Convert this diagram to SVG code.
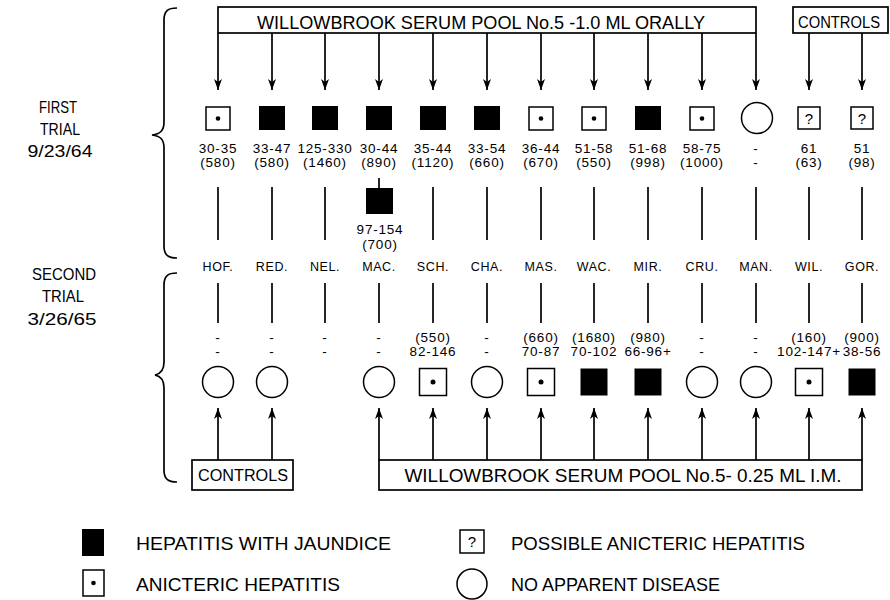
<svg xmlns="http://www.w3.org/2000/svg" width="890" height="600" viewBox="0 0 890 600">
<defs>
<style>
.ln{stroke:#000;stroke-width:1.7;fill:none}
.box{fill:#fff;stroke:#000;stroke-width:1.7}
.jau{fill:#000}
.ict{fill:#fff;stroke:#000;stroke-width:1.5}
.nad{fill:#fff;stroke:#000;stroke-width:1.5}
.dot{fill:#000}
text{font-family:"Liberation Sans",Arial,sans-serif;fill:#000}
.big{font-size:18px}
.ctl{font-size:16px;text-anchor:middle}
.lab{font-size:17px;text-anchor:middle}
.num{font-size:13.5px;text-anchor:middle;letter-spacing:0.8px}
.nm{font-size:12.5px;text-anchor:middle;letter-spacing:0.6px}
.q{font-size:15px;text-anchor:middle}
.mid{text-anchor:middle}
</style>
<marker id="ah" markerUnits="userSpaceOnUse" markerWidth="11" markerHeight="8" viewBox="0 0 11 8" refX="11" refY="4" orient="auto">
<path d="M0,0 L11,4 L0,8 L3,4 z" fill="#000"/>
</marker>
</defs>
<rect width="890" height="600" fill="#fff"/>

<!-- trial labels and braces -->
<g id="trial1-label">
<text class="lab" x="58" y="113" textLength="38" lengthAdjust="spacingAndGlyphs">FIRST</text>
<text class="lab" x="60" y="135" textLength="40" lengthAdjust="spacingAndGlyphs">TRIAL</text>
<text class="lab" x="60" y="157" textLength="65" lengthAdjust="spacingAndGlyphs">9/23/64</text>
<path class="ln" d="M177,8 C168,8 164,11 164,20 L164,122 C164,131 160,134 152,135 C160,136 164,139 164,148 L164,246 C164,255 168,258 177,258"/>
</g>
<g id="trial2-label">
<text class="lab" x="64" y="280" textLength="64" lengthAdjust="spacingAndGlyphs">SECOND</text>
<text class="lab" x="63" y="302" textLength="42" lengthAdjust="spacingAndGlyphs">TRIAL</text>
<text class="lab" x="62" y="325" textLength="69" lengthAdjust="spacingAndGlyphs">3/26/65</text>
<path class="ln" d="M177,273 C168,273 164,276 164,285 L164,362 C164,371 160,374 155,375 C160,376 164,379 164,388 L164,470 C164,479 168,482 177,482"/>
</g>

<!-- source boxes -->
<g id="pool-oral">
<rect class="box" x="218" y="7" width="538" height="26"/>
<text class="big mid" x="481" y="29" textLength="448" lengthAdjust="spacingAndGlyphs">WILLOWBROOK SERUM POOL No.5 -1.0 ML ORALLY</text>
</g>
<g id="controls-first">
<rect class="box" x="793" y="7" width="95" height="26"/>
<text class="ctl" x="839" y="28" textLength="82" lengthAdjust="spacingAndGlyphs">CONTROLS</text>
</g>
<g id="controls-second">
<rect class="box" x="192" y="460" width="101" height="30"/>
<text class="ctl" x="243" y="481" textLength="90" lengthAdjust="spacingAndGlyphs">CONTROLS</text>
</g>
<g id="pool-im">
<rect class="box" x="379" y="460" width="483" height="30"/>
<text class="big mid" x="623" y="482" textLength="437" lengthAdjust="spacingAndGlyphs">WILLOWBROOK SERUM POOL No.5- 0.25 ML I.M.</text>
</g>

<!-- connectors -->
<g id="connectors">
<line class="ln" x1="218" y1="33" x2="218" y2="90" marker-end="url(#ah)"/>
<line class="ln" x1="272" y1="33" x2="272" y2="90" marker-end="url(#ah)"/>
<line class="ln" x1="325" y1="33" x2="325" y2="90" marker-end="url(#ah)"/>
<line class="ln" x1="379" y1="33" x2="379" y2="90" marker-end="url(#ah)"/>
<line class="ln" x1="433" y1="33" x2="433" y2="90" marker-end="url(#ah)"/>
<line class="ln" x1="487" y1="33" x2="487" y2="90" marker-end="url(#ah)"/>
<line class="ln" x1="541" y1="33" x2="541" y2="90" marker-end="url(#ah)"/>
<line class="ln" x1="594" y1="33" x2="594" y2="90" marker-end="url(#ah)"/>
<line class="ln" x1="648" y1="33" x2="648" y2="90" marker-end="url(#ah)"/>
<line class="ln" x1="702" y1="33" x2="702" y2="90" marker-end="url(#ah)"/>
<line class="ln" x1="756" y1="33" x2="756" y2="90" marker-end="url(#ah)"/>
<line class="ln" x1="809" y1="33" x2="809" y2="90" marker-end="url(#ah)"/>
<line class="ln" x1="862" y1="33" x2="862" y2="90" marker-end="url(#ah)"/>

<line class="ln" x1="218" y1="187" x2="218" y2="240"/>
<line class="ln" x1="272" y1="187" x2="272" y2="240"/>
<line class="ln" x1="325" y1="187" x2="325" y2="240"/>
<line class="ln" x1="379" y1="178" x2="379" y2="188"/>
<line class="ln" x1="433" y1="187" x2="433" y2="240"/>
<line class="ln" x1="487" y1="187" x2="487" y2="240"/>
<line class="ln" x1="541" y1="187" x2="541" y2="240"/>
<line class="ln" x1="594" y1="187" x2="594" y2="240"/>
<line class="ln" x1="648" y1="187" x2="648" y2="240"/>
<line class="ln" x1="702" y1="187" x2="702" y2="240"/>
<line class="ln" x1="756" y1="187" x2="756" y2="240"/>
<line class="ln" x1="809" y1="187" x2="809" y2="240"/>
<line class="ln" x1="862" y1="187" x2="862" y2="240"/>

<line class="ln" x1="218" y1="283" x2="218" y2="323"/>
<line class="ln" x1="272" y1="283" x2="272" y2="323"/>
<line class="ln" x1="325" y1="283" x2="325" y2="323"/>
<line class="ln" x1="379" y1="283" x2="379" y2="323"/>
<line class="ln" x1="433" y1="283" x2="433" y2="323"/>
<line class="ln" x1="487" y1="283" x2="487" y2="323"/>
<line class="ln" x1="541" y1="283" x2="541" y2="323"/>
<line class="ln" x1="594" y1="283" x2="594" y2="323"/>
<line class="ln" x1="648" y1="283" x2="648" y2="323"/>
<line class="ln" x1="702" y1="283" x2="702" y2="323"/>
<line class="ln" x1="756" y1="283" x2="756" y2="323"/>
<line class="ln" x1="809" y1="283" x2="809" y2="323"/>
<line class="ln" x1="862" y1="283" x2="862" y2="323"/>

<line class="ln" x1="218" y1="460" x2="218" y2="408" marker-end="url(#ah)"/>
<line class="ln" x1="272" y1="460" x2="272" y2="408" marker-end="url(#ah)"/>
<line class="ln" x1="379" y1="460" x2="379" y2="408" marker-end="url(#ah)"/>
<line class="ln" x1="433" y1="460" x2="433" y2="408" marker-end="url(#ah)"/>
<line class="ln" x1="487" y1="460" x2="487" y2="408" marker-end="url(#ah)"/>
<line class="ln" x1="541" y1="460" x2="541" y2="408" marker-end="url(#ah)"/>
<line class="ln" x1="594" y1="460" x2="594" y2="408" marker-end="url(#ah)"/>
<line class="ln" x1="648" y1="460" x2="648" y2="408" marker-end="url(#ah)"/>
<line class="ln" x1="702" y1="460" x2="702" y2="408" marker-end="url(#ah)"/>
<line class="ln" x1="756" y1="460" x2="756" y2="408" marker-end="url(#ah)"/>
<line class="ln" x1="809" y1="460" x2="809" y2="408" marker-end="url(#ah)"/>
<line class="ln" x1="862" y1="460" x2="862" y2="408" marker-end="url(#ah)"/>
</g>

<!-- first trial results -->
<g id="first-HOF"><rect class="ict" x="206" y="107" width="24" height="23"/><circle class="dot" cx="218" cy="118.5" r="2.3"/><text class="num" x="218" y="153">30-35</text><text class="num" x="218" y="167">(580)</text></g>
<g id="first-RED"><rect class="jau" x="259" y="106" width="26" height="24"/><text class="num" x="272" y="153">33-47</text><text class="num" x="272" y="167">(580)</text></g>
<g id="first-NEL"><rect class="jau" x="312" y="106" width="26" height="24"/><text class="num" x="325" y="153">125-330</text><text class="num" x="325" y="167">(1460)</text></g>
<g id="first-MAC"><rect class="jau" x="366" y="106" width="26" height="24"/><text class="num" x="379" y="153">30-44</text><text class="num" x="379" y="167">(890)</text></g>
<g id="first-MAC-late"><rect class="jau" x="366" y="188" width="27" height="26"/><text class="num" x="380" y="234">97-154</text><text class="num" x="380" y="249">(700)</text></g>
<g id="first-SCH"><rect class="jau" x="420" y="106" width="26" height="24"/><text class="num" x="433" y="153">35-44</text><text class="num" x="433" y="167">(1120)</text></g>
<g id="first-CHA"><rect class="jau" x="474" y="106" width="26" height="24"/><text class="num" x="487" y="153">33-54</text><text class="num" x="487" y="167">(660)</text></g>
<g id="first-MAS"><rect class="ict" x="529" y="107" width="24" height="23"/><circle class="dot" cx="541" cy="118.5" r="2.3"/><text class="num" x="541" y="153">36-44</text><text class="num" x="541" y="167">(670)</text></g>
<g id="first-WAC"><rect class="ict" x="582" y="107" width="24" height="23"/><circle class="dot" cx="594" cy="118.5" r="2.3"/><text class="num" x="594" y="153">51-58</text><text class="num" x="594" y="167">(550)</text></g>
<g id="first-MIR"><rect class="jau" x="635" y="106" width="26" height="24"/><text class="num" x="648" y="153">51-68</text><text class="num" x="648" y="167">(998)</text></g>
<g id="first-CRU"><rect class="ict" x="690" y="107" width="24" height="23"/><circle class="dot" cx="702" cy="118.5" r="2.3"/><text class="num" x="702" y="153">58-75</text><text class="num" x="702" y="167">(1000)</text></g>
<g id="first-MAN"><circle class="nad" cx="757" cy="118" r="15.5"/><text class="num" x="756" y="153">-</text><text class="num" x="756" y="167">-</text></g>
<g id="first-WIL"><rect class="ict" x="798" y="107" width="22" height="22"/><text class="q" x="809" y="124">?</text><text class="num" x="809" y="153">61</text><text class="num" x="809" y="167">(63)</text></g>
<g id="first-GOR"><rect class="ict" x="851" y="107" width="22" height="22"/><text class="q" x="862" y="124">?</text><text class="num" x="862" y="153">51</text><text class="num" x="862" y="167">(98)</text></g>

<!-- subject names -->
<g id="names">
<text class="nm" x="218" y="271">HOF.</text>
<text class="nm" x="272" y="271">RED.</text>
<text class="nm" x="325" y="271">NEL.</text>
<text class="nm" x="379" y="271">MAC.</text>
<text class="nm" x="433" y="271">SCH.</text>
<text class="nm" x="487" y="271">CHA.</text>
<text class="nm" x="541" y="271">MAS.</text>
<text class="nm" x="594" y="271">WAC.</text>
<text class="nm" x="648" y="271">MIR.</text>
<text class="nm" x="702" y="271">CRU.</text>
<text class="nm" x="756" y="271">MAN.</text>
<text class="nm" x="809" y="271">WIL.</text>
<text class="nm" x="862" y="271">GOR.</text>
</g>

<!-- second trial results -->
<g id="second-HOF"><text class="num" x="218" y="342">-</text><text class="num" x="218" y="356">-</text><circle class="nad" cx="218" cy="382" r="15.5"/></g>
<g id="second-RED"><text class="num" x="272" y="342">-</text><text class="num" x="272" y="356">-</text><circle class="nad" cx="272" cy="382" r="15.5"/></g>
<g id="second-NEL"><text class="num" x="325" y="342">-</text><text class="num" x="325" y="356">-</text></g>
<g id="second-MAC"><text class="num" x="379" y="342">-</text><text class="num" x="379" y="356">-</text><circle class="nad" cx="379" cy="382" r="15.5"/></g>
<g id="second-SCH"><text class="num" x="433" y="342">(550)</text><text class="num" x="433" y="356">82-146</text><rect class="ict" x="419.5" y="368.5" width="27" height="27"/><circle class="dot" cx="433" cy="382" r="2.5"/></g>
<g id="second-CHA"><text class="num" x="487" y="342">-</text><text class="num" x="487" y="356">-</text><circle class="nad" cx="487" cy="382" r="15.5"/></g>
<g id="second-MAS"><text class="num" x="541" y="342">(660)</text><text class="num" x="541" y="356">70-87</text><rect class="ict" x="527.5" y="368.5" width="27" height="27"/><circle class="dot" cx="541" cy="382" r="2.5"/></g>
<g id="second-WAC"><text class="num" x="594" y="342">(1680)</text><text class="num" x="594" y="356">70-102</text><rect class="jau" x="580.5" y="368.5" width="27" height="27"/></g>
<g id="second-MIR"><text class="num" x="648" y="342">(980)</text><text class="num" x="648" y="356">66-96+</text><rect class="jau" x="634.5" y="368.5" width="27" height="27"/></g>
<g id="second-CRU"><text class="num" x="702" y="342">-</text><text class="num" x="702" y="356">-</text><circle class="nad" cx="702" cy="382" r="15.5"/></g>
<g id="second-MAN"><text class="num" x="756" y="342">-</text><text class="num" x="756" y="356">-</text><circle class="nad" cx="756" cy="382" r="15.5"/></g>
<g id="second-WIL"><text class="num" x="809" y="342">(160)</text><text class="num" x="809" y="356">102-147+</text><rect class="ict" x="795.5" y="368.5" width="27" height="27"/><circle class="dot" cx="809" cy="382" r="2.5"/></g>
<g id="second-GOR"><text class="num" x="862" y="342">(900)</text><text class="num" x="862" y="356">38-56</text><rect class="jau" x="848.5" y="368.5" width="27" height="27"/></g>

<!-- legend -->
<g id="legend-jaundice"><rect class="jau" x="82" y="529" width="22" height="27"/><text class="big" x="136" y="550" textLength="255" lengthAdjust="spacingAndGlyphs">HEPATITIS WITH JAUNDICE</text></g>
<g id="legend-anicteric"><rect class="ict" x="83" y="570" width="21" height="26"/><circle class="dot" cx="93.5" cy="583" r="2.3"/><text class="big" x="136" y="591" textLength="204" lengthAdjust="spacingAndGlyphs">ANICTERIC HEPATITIS</text></g>
<g id="legend-possible"><rect class="ict" x="460" y="530" width="24" height="23"/><text class="q" x="472" y="547">?</text><text class="big" x="511" y="550" textLength="294" lengthAdjust="spacingAndGlyphs">POSSIBLE ANICTERIC HEPATITIS</text></g>
<g id="legend-none"><circle class="nad" cx="472" cy="584" r="15"/><text class="big" x="511" y="591" textLength="209" lengthAdjust="spacingAndGlyphs">NO APPARENT DISEASE</text></g>
</svg>
